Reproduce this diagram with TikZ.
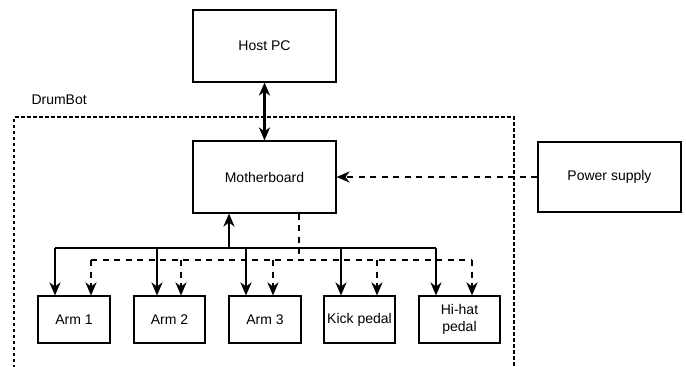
\documentclass[tikz,border=0pt]{standalone}
\usepackage{fontspec}
\setmainfont{Liberation Sans}
\usetikzlibrary{arrows.meta}

\tikzset{
  block/.style={draw=black, line width=1.1pt, fill=white, align=center,
    inner sep=0pt, font=\fontsize{14}{17}\selectfont},
  link/.style={line width=2.2pt, black},
  datalink/.style={link, -{Stealth[length=13pt, width=11pt, inset=4pt]}},
  powerdash/.style={link, dash pattern=on 6pt off 5.5pt},
  powerlink/.style={powerdash, -{Stealth[length=13pt, width=11pt, inset=4pt]}},
  boundary/.style={draw=black, line width=1.1pt, dash pattern=on 3.5pt off 2.5pt}
}

\begin{document}
\begin{tikzpicture}[x=1pt, y=-1pt]
  \useasboundingbox (0,0) rectangle (686,367);

  % DrumBot enclosure (open at the bottom)
  \draw[boundary] (14,380) -- (14,117) -- (514,117) -- (514,380);
  \node[anchor=west, font=\fontsize{14}{17}\selectfont] (label) at (28,100) {DrumBot};

  % main units
  \node[block, minimum width=143pt, minimum height=72pt] (host) at (264.5,46) {Host PC};
  \node[block, minimum width=143pt, minimum height=72pt] (mb) at (264.5,177) {Motherboard};
  \node[block, minimum width=143pt, minimum height=70pt] (psu) at (609.5,177) {Power supply};

  % actuators
  \node[block, minimum width=72pt, minimum height=47pt] (a1) at (74,319.5) {Arm 1};
  \node[block, minimum width=71pt, minimum height=47pt] (a2) at (169.5,319.5) {Arm 2};
  \node[block, minimum width=72pt, minimum height=47pt] (a3) at (265,319.5) {Arm 3};
  \node[block, minimum width=71pt, minimum height=47pt] (kick) at (359.5,319.5) {Kick pedal};
  \node[block, minimum width=81pt, minimum height=47pt] (hihat) at (459.5,319.5) {Hi-hat\\pedal};

  % host link
  \draw[link, {Stealth[length=13pt, width=11pt, inset=4pt]}-{Stealth[length=13pt, width=11pt, inset=4pt]}]
    (host.south) -- (mb.north);

  % power feed
  \draw[powerlink] (psu.west) -- (mb.east);

  % control bus
  \coordinate (sj) at (229,248);
  \coordinate (s1) at (55,248);
  \coordinate (s2) at (157,248);
  \coordinate (s3) at (246,248);
  \coordinate (s4) at (341,248);
  \coordinate (s5) at (436,248);
  \draw[datalink] (sj) -- (sj |- mb.south);
  \draw[link] (s1) -- (s5);
  \draw[datalink] (s1) -- (s1 |- a1.north);
  \draw[datalink] (s2) -- (s2 |- a2.north);
  \draw[datalink] (s3) -- (s3 |- a3.north);
  \draw[datalink] (s4) -- (s4 |- kick.north);
  \draw[datalink] (s5) -- (s5 |- hihat.north);

  % power bus
  \coordinate (pj) at (299,260);
  \coordinate (p1) at (91,260);
  \coordinate (p2) at (181,260);
  \coordinate (p3) at (273,260);
  \coordinate (p4) at (377,260);
  \coordinate (p5) at (472,260);
  \draw[powerdash] (pj |- mb.south) -- (pj);
  \draw[powerdash] (p1) -- (p5);
  \draw[powerlink] (p1) -- (p1 |- a1.north);
  \draw[powerlink] (p2) -- (p2 |- a2.north);
  \draw[powerlink] (p3) -- (p3 |- a3.north);
  \draw[powerlink] (p4) -- (p4 |- kick.north);
  \draw[powerlink] (p5) -- (p5 |- hihat.north);
\end{tikzpicture}
\end{document}
